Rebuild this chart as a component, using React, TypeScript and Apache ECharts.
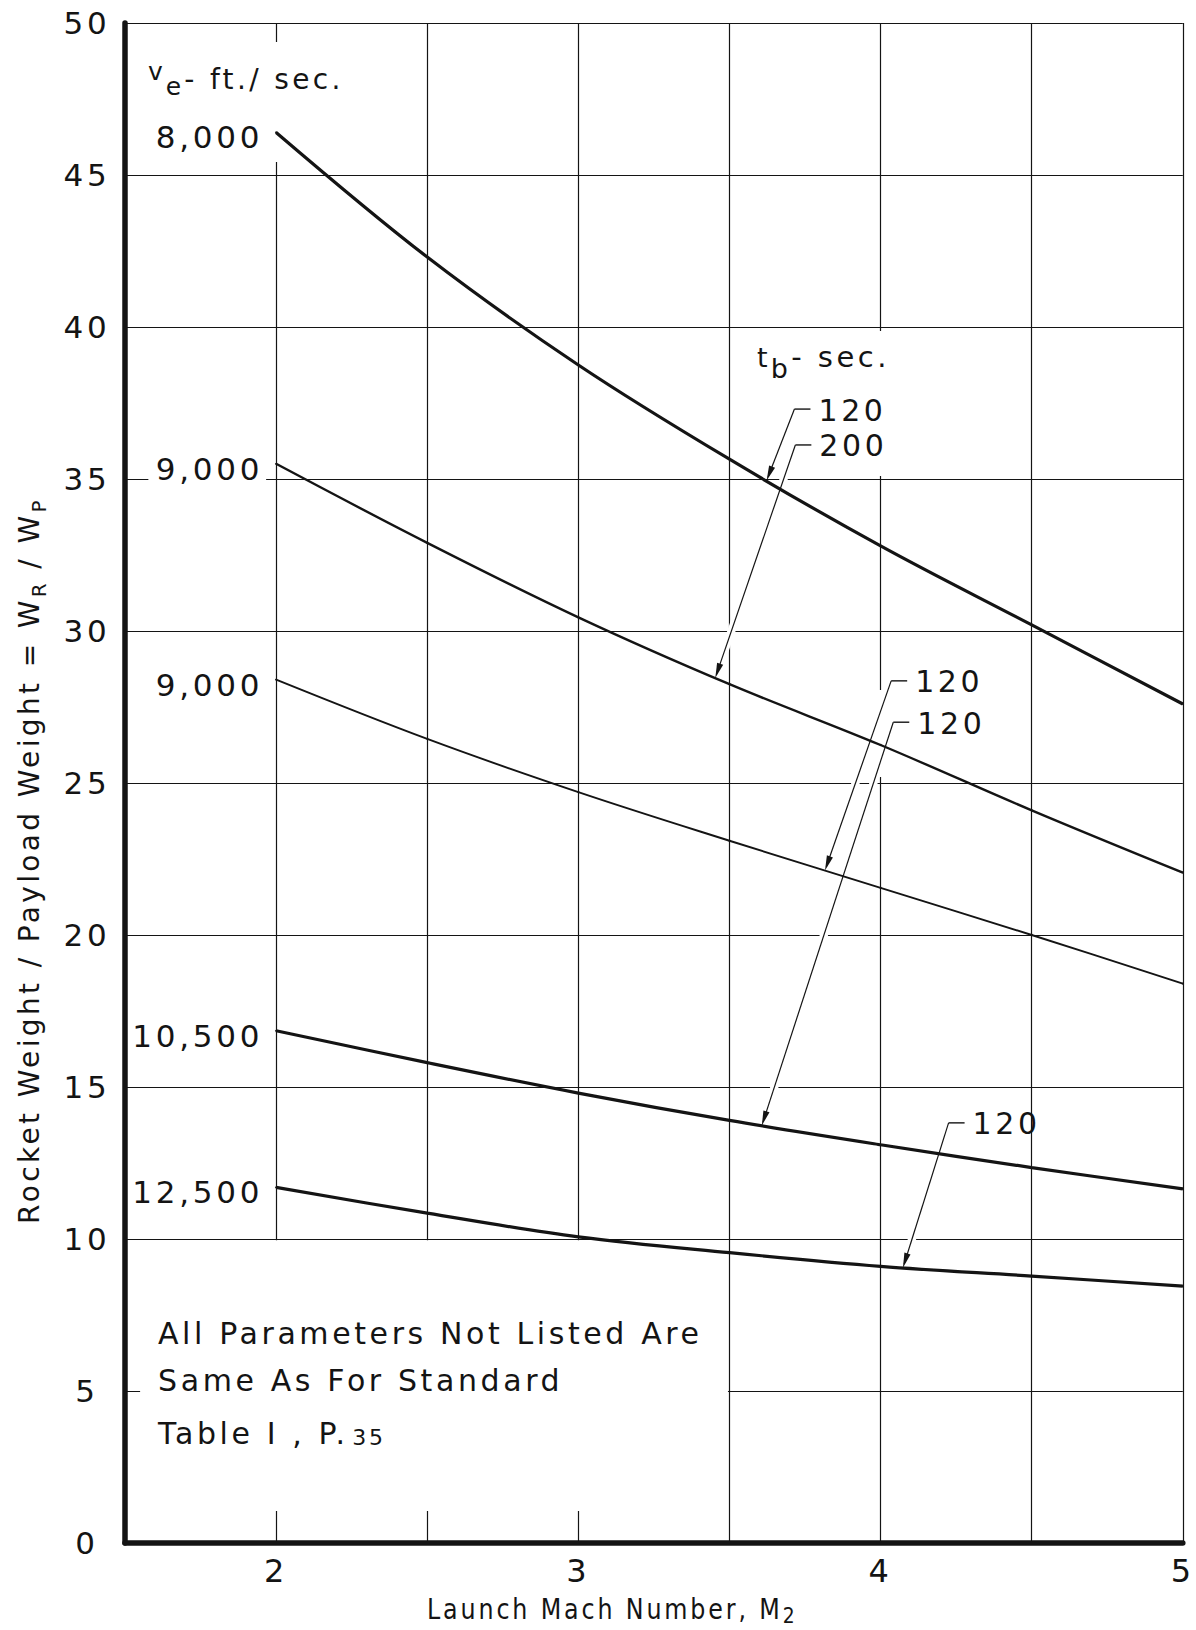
import React, { useEffect, useRef } from 'react';
import * as echarts from 'echarts';

// Launch Mach number stations at which each curve is tabulated
const machNumbers = [2, 2.5, 3, 3.5, 4, 4.5, 5];

// Rocket weight / payload weight for each exhaust velocity and burning time
const ratioVe8000Tb120 = [46.4, 42.3, 38.75, 35.65, 32.8, 30.2, 27.6];
const ratioVe9000Tb200 = [35.5, 32.9, 30.45, 28.25, 26.25, 24.1, 22.05];
const ratioVe9000Tb120 = [28.4, 26.45, 24.7, 23.1, 21.55, 20.0, 18.4];
const ratioVe10500Tb120 = [16.85, 15.8, 14.8, 13.9, 13.1, 12.35, 11.65];
const ratioVe12500Tb120 = [11.7, 10.85, 10.07, 9.55, 9.1, 8.78, 8.45];

const curveValues = [ratioVe8000Tb120, ratioVe9000Tb200, ratioVe9000Tb120, ratioVe10500Tb120, ratioVe12500Tb120];
const exhaustVelocityLabels = ['8,000', '9,000', '9,000', '10,500', '12,500'];
const burnTimeLabels = ['120', '200', '120', '120', '120'];

const xTickLabels = ['2', '3', '4', '5'];
const yTickLabels = ['0', '5', '10', '15', '20', '25', '30', '35', '40', '45', '50'];

const noteLines = ['All Parameters Not Listed Are', 'Same As For Standard', 'Table I , P.'];
const notePage = '35';

// ---- drawing styles ----
const FONT = '"DejaVu Sans", sans-serif';
const INK = '#141414';
const LETTER_SPACING = 0.12; // em, applied to every svg text by the stylesheet below
const curveWidths = [3.2, 2.4, 1.9, 3.2, 3.2];

// callout leaders: where each arrow meets its curve and where the leader bends to its label (axis units)
const calloutTipMach = [3.623, 3.453, 3.816, 3.607, 4.074];
const calloutKnee = [
  [3.715, 37.3],
  [3.718, 36.12],
  [4.035, 28.36],
  [4.042, 27.0],
  [4.225, 13.82],
];

const pad = (text: string, size: number) => text.length * size * LETTER_SPACING;

let measureCtx: CanvasRenderingContext2D | null = null;
function textWidth(text: string, size: number) {
  if (!measureCtx) measureCtx = document.createElement('canvas').getContext('2d');
  measureCtx!.font = `${size}px ${FONT}`;
  return measureCtx!.measureText(text).width + pad(text, size);
}

function token(text: string, size: number, extra: Record<string, unknown> = {}) {
  return {
    fontSize: size,
    fontFamily: FONT,
    fill: INK,
    padding: [0, pad(text, size), 0, 0],
    ...extra,
  };
}

function valueAt(vals: number[], m: number) {
  for (let j = 0; j < machNumbers.length - 1; j++) {
    const a = machNumbers[j];
    const b = machNumbers[j + 1];
    if (m >= a && m <= b) {
      const t = (m - a) / (b - a);
      return vals[j] + t * (vals[j + 1] - vals[j]);
    }
  }
  return vals[vals.length - 1];
}

// rich texts are always laid out from their left end so the spaced tokens stay in step
function textEl(x: number, y: number, text: string, rich: any, rotation = 0, scaleX = 1) {
  return {
    type: 'text',
    x,
    y,
    rotation,
    scaleX,
    z: 10,
    silent: true,
    style: {
      text,
      rich,
      fill: INK,
      fontFamily: FONT,
      textAlign: 'left',
      align: 'left',
      textVerticalAlign: 'middle',
      verticalAlign: 'middle',
    },
  };
}

function buildOption(): any {
  const series = curveValues.map((vals, i) => ({
    type: 'line',
    name: exhaustVelocityLabels[i],
    data: machNumbers.map((m, j) =>
      j === 0 ? { value: [m, vals[j]], label: { show: true } } : [m, vals[j]]
    ),
    smooth: 0.35,
    showSymbol: true,
    symbol: 'circle',
    symbolSize: 2,
    itemStyle: { color: INK },
    lineStyle: { color: INK, width: curveWidths[i] },
    label: {
      show: false,
      position: 'left',
      distance: 9,
      offset: [0, 5],
      formatter: exhaustVelocityLabels[i],
      fontFamily: FONT,
      fontSize: 31,
      color: INK,
      backgroundColor: '#fff',
      padding: [3, 3, 3, 26],
    },
    emphasis: { disabled: true },
    silent: true,
    z: 2,
    markArea:
      i === 0
        ? {
            silent: true,
            label: { show: false },
            itemStyle: { color: '#fff', opacity: 1, borderWidth: 0 },
            // blank panel holding the note; the grid only shows as short ticks at its edges
            data: [[{ xAxis: 1.55, yAxis: 1.05 }, { xAxis: 3.495, yAxis: 9.96 }]],
          }
        : undefined,
  }));

  return {
    animation: false,
    backgroundColor: '#fff',
    textStyle: { fontFamily: FONT, color: INK },
    grid: { left: 125, right: 1, top: 23, bottom: 87, containLabel: false },
    xAxis: {
      type: 'value',
      min: 1.5,
      max: 5,
      interval: 0.5,
      axisLine: { show: true, onZero: false, lineStyle: { color: INK, width: 5.5 } },
      axisTick: { show: false },
      splitLine: { show: true, lineStyle: { color: INK, width: 1.2 } },
      axisLabel: {
        formatter: (v: number) => (xTickLabels.includes(String(v)) ? String(v) : ''),
        fontFamily: FONT,
        fontSize: 32,
        color: INK,
        margin: 12,
      },
    },
    yAxis: {
      type: 'value',
      min: 0,
      max: 50,
      interval: 5,
      axisLine: { show: true, onZero: false, lineStyle: { color: INK, width: 5.5 } },
      axisTick: { show: false },
      splitLine: { show: true, lineStyle: { color: INK, width: 1.2 } },
      axisLabel: {
        formatter: (v: number) => (yTickLabels.includes(String(v)) ? String(v) : ''),
        fontFamily: FONT,
        fontSize: 31,
        color: INK,
        align: 'center',
        margin: 38,
      },
    },
    series,
  };
}

function buildGraphics(chart: any): any[] {
  const toPx = (m: number, v: number) => chart.convertToPixel({ gridIndex: 0 }, [m, v]) as number[];
  const els: any[] = [];
  const [x2] = toPx(2, 0);
  const [x4] = toPx(4, 0);

  // grid lines are broken where the headings sit
  const masks = [
    [x2 - 5, 42, 10, 120],
    [x4 - 5, 331, 10, 145],
    [x4 - 5, 690, 10, 87],
  ];
  masks.forEach(([x, y, w, h]) =>
    els.push({ type: 'rect', z: 1, silent: true, shape: { x, y, width: w, height: h }, style: { fill: '#fff' } })
  );

  // burning-time callouts with arrow leaders
  burnTimeLabels.forEach((label, i) => {
    const vals = curveValues[i];
    const tipM = calloutTipMach[i];
    const tip = toPx(tipM, valueAt(vals, tipM));
    const knee = toPx(calloutKnee[i][0], calloutKnee[i][1]);
    const dx = tip[0] - knee[0];
    const dy = tip[1] - knee[1];
    const len = Math.hypot(dx, dy);
    const ux = dx / len;
    const uy = dy / len;
    const L = 15;
    const W = 3.2;
    const base = [tip[0] - ux * L, tip[1] - uy * L];
    const dashEnd = [knee[0] + 16, knee[1]];

    // white halo so crossed grid lines are interrupted
    els.push({ type: 'line', z: 1, silent: true, shape: { x1: knee[0], y1: knee[1], x2: base[0], y2: base[1] }, style: { stroke: '#fff', lineWidth: 8 } });
    els.push({ type: 'line', z: 1, silent: true, shape: { x1: knee[0], y1: knee[1], x2: dashEnd[0], y2: dashEnd[1] }, style: { stroke: '#fff', lineWidth: 8 } });

    els.push({ type: 'line', z: 10, silent: true, shape: { x1: knee[0], y1: knee[1], x2: tip[0] - ux * 4, y2: tip[1] - uy * 4 }, style: { stroke: INK, lineWidth: 1.2 } });
    els.push({ type: 'line', z: 10, silent: true, shape: { x1: knee[0], y1: knee[1], x2: dashEnd[0], y2: dashEnd[1] }, style: { stroke: INK, lineWidth: 1.4 } });
    els.push({
      type: 'polygon',
      z: 10,
      silent: true,
      shape: {
        points: [
          [tip[0], tip[1]],
          [base[0] - uy * W, base[1] + ux * W],
          [base[0] + uy * W, base[1] - ux * W],
        ],
      },
      style: { fill: INK },
    });
    els.push(textEl(knee[0] + 24, knee[1] + 1, `{n|${label}}`, { n: token(label, 30) }));
  });

  // exhaust velocity heading
  els.push(
    textEl(148, 79, '{v|v}{e|e}{a|- ft./ sec.}', {
      v: token('v', 25, { lineHeight: 28, verticalAlign: 'top' }),
      e: token('e', 25, { lineHeight: 26, verticalAlign: 'bottom' }),
      a: token('- ft./ sec.', 28, { lineHeight: 40 }),
    })
  );

  // burning time heading
  els.push(
    textEl(757, 357, '{t|t}{b|b}{a|- sec.}', {
      t: token('t', 27, { lineHeight: 50 }),
      b: token('b', 27, { lineHeight: 27, verticalAlign: 'bottom' }),
      a: token('- sec.', 29, { lineHeight: 50 }),
    })
  );

  // note in the blank panel
  els.push(textEl(158, 1333, `{a|${noteLines[0]}}`, { a: token(noteLines[0], 30) }));
  els.push(textEl(158, 1380, `{a|${noteLines[1]}}`, { a: token(noteLines[1], 30) }));
  els.push(
    textEl(158, 1433, `{a|${noteLines[2]}}{s|${notePage}}`, {
      a: token(noteLines[2] + ' ', 30, { lineHeight: 30 }),
      s: token(notePage, 22, { lineHeight: 23, verticalAlign: 'bottom' }),
    })
  );

  // x axis title, lettered slightly narrow
  els.push(
    textEl(
      427,
      1609,
      '{a|Launch Mach Number, M}{s|2}',
      {
        a: token('Launch Mach Number, M', 28, { lineHeight: 34 }),
        s: token('2', 22, { lineHeight: 24, verticalAlign: 'bottom' }),
      },
      0,
      0.85
    )
  );

  // y axis title, centred along the plot by its measured length
  const yParts = [
    ['Rocket Weight / Payload Weight = W', 28],
    ['R', 20],
    ['\u00a0/ W', 28],
    ['P', 20],
  ] as [string, number][];
  const yLen = yParts.reduce((s, [t, f]) => s + textWidth(t, f), 0);
  els.push(
    textEl(
      29,
      861 + yLen / 2,
      '{a|Rocket Weight / Payload Weight = W}{r|R}{b|\u00a0/ W}{p|P}',
      {
        a: token(yParts[0][0], 28, { lineHeight: 40 }),
        r: token('R', 20, { lineHeight: 26, verticalAlign: 'bottom' }),
        b: token(yParts[2][0], 28, { lineHeight: 40 }),
        p: token('P', 20, { lineHeight: 26, verticalAlign: 'bottom' }),
      },
      Math.PI / 2
    )
  );

  return els;
}

export default function App() {
  const ref = useRef<HTMLDivElement>(null);

  useEffect(() => {
    document.body.style.margin = '0';
    const chart = echarts.init(ref.current as HTMLDivElement, null, { renderer: 'svg' });
    chart.setOption(buildOption());
    chart.setOption({ graphic: buildGraphics(chart) });
    return () => chart.dispose();
  }, []);

  return (
    <>
      <style>{`.rocket-chart text { letter-spacing: ${LETTER_SPACING}em; }`}</style>
      <div ref={ref} className="rocket-chart" style={{ width: 1196, height: 1630 }} />
    </>
  );
}
